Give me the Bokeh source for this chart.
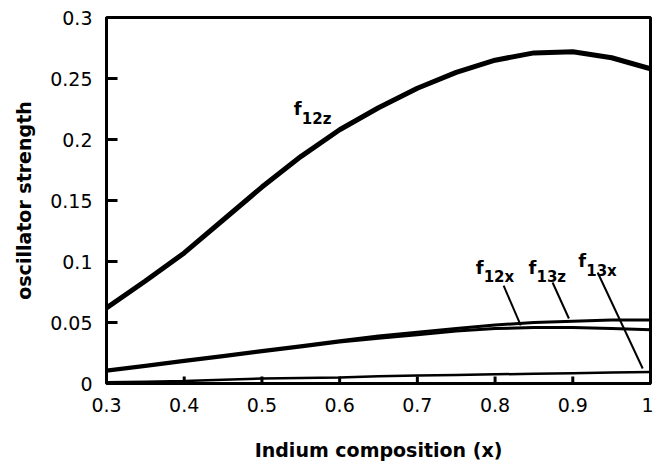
from bokeh.plotting import figure
from bokeh.models import Range1d, FixedTicker, Label
from bokeh.embed import file_html
from bokeh.resources import INLINE

# Data
x_vals = [0.3, 0.35, 0.4, 0.45, 0.5, 0.55, 0.6, 0.65, 0.7, 0.75, 0.8, 0.85, 0.9, 0.95, 1.0]
f12z = [0.062, 0.084, 0.107, 0.134, 0.161, 0.186, 0.208, 0.226, 0.242, 0.255, 0.265, 0.271, 0.272, 0.267, 0.258]
f13z = [0.011, 0.015, 0.019, 0.023, 0.027, 0.031, 0.035, 0.039, 0.042, 0.045, 0.048, 0.050, 0.051, 0.052, 0.052]
f12x = [0.010, 0.014, 0.018, 0.022, 0.026, 0.030, 0.034, 0.037, 0.040, 0.043, 0.045, 0.046, 0.046, 0.045, 0.044]
f13x = [0.001, 0.0015, 0.002, 0.003, 0.004, 0.0045, 0.005, 0.006, 0.0065, 0.007, 0.0075, 0.008, 0.0085, 0.009, 0.0095]

x_ticks = [0.3, 0.4, 0.5, 0.6, 0.7, 0.8, 0.9, 1.0]
x_tick_labels = ["0.3", "0.4", "0.5", "0.6", "0.7", "0.8", "0.9", "1"]
y_ticks = [0.0, 0.05, 0.1, 0.15, 0.2, 0.25, 0.3]
y_tick_labels = ["0", "0.05", "0.1", "0.15", "0.2", "0.25", "0.3"]

# Curve annotations: name, subscript, anchor (x, y), pointer start/end
ann_main = ["f", "f", "f", "f"]
ann_sub = ["12z", "12x", "13z", "13x"]
ann_x = [0.541, 0.775, 0.843, 0.907]
ann_y = [0.2254, 0.0951, 0.0951, 0.1008]
ptr_x0 = [0.811, 0.874, 0.932]
ptr_y0 = [0.0803, 0.0828, 0.091]
ptr_x1 = [0.833, 0.895, 0.990]
ptr_y1 = [0.0476, 0.0533, 0.0123]

FONT = "DejaVu Sans"
X0, Y0 = x_ticks[0], y_ticks[0]
X_SPAN = x_ticks[-1] - x_ticks[0]
Y_SPAN = y_ticks[-1] - y_ticks[0]
FRAME_W, FRAME_H = 544, 366

p = figure(width=653, height=466, output_backend="svg", toolbar_location=None,
           x_range=Range1d(x_ticks[0], x_ticks[-1]), y_range=Range1d(y_ticks[0], y_ticks[-1]),
           min_border_left=106, min_border_right=3, min_border_top=17, min_border_bottom=83)
p.grid.visible = False
p.outline_line_color = "black"
p.outline_line_width = 3
p.background_fill_color = "white"
p.border_fill_color = "white"

for ax, ticks, labels in ((p.xaxis[0], x_ticks, x_tick_labels), (p.yaxis[0], y_ticks, y_tick_labels)):
    ax.ticker = FixedTicker(ticks=ticks)
    ax.major_label_overrides = {t: l for t, l in zip(ticks, labels)}
    ax.axis_line_width = 3
    ax.axis_line_color = "black"
    ax.major_tick_in = 0
    ax.major_tick_out = 0
    ax.minor_tick_line_color = None
    ax.major_label_text_font = FONT
    ax.major_label_text_font_size = "19px"
    ax.major_label_text_color = "black"
    ax.axis_label_text_font = FONT
    ax.axis_label_text_font_size = "19px"
    ax.axis_label_text_font_style = "bold"
    ax.axis_label_text_color = "black"

p.xaxis.axis_label = "Indium composition (x)"
p.yaxis.axis_label = "oscillator strength"
p.xaxis.major_label_standoff = 14
p.xaxis.axis_label_standoff = 24
p.yaxis.major_label_standoff = 14
p.yaxis.axis_label_standoff = 12

# Inward tick marks (~11 px on the y axis, ~7 px on the x axis, converted into data units)
ytk = y_ticks[1:-1]
xtk = x_ticks[1:-1]
p.segment(x0=[X0] * len(ytk), y0=ytk, x1=[X0 + X_SPAN * 11 / FRAME_W] * len(ytk), y1=ytk,
          line_color="black", line_width=3)
p.segment(x0=xtk, y0=[Y0] * len(xtk), x1=xtk, y1=[Y0 + Y_SPAN * 7 / FRAME_H] * len(xtk),
          line_color="black", line_width=3)

p.line(x_vals, f12z, line_color="black", line_width=5)
p.line(x_vals, f13z, line_color="black", line_width=3)
p.line(x_vals, f12x, line_color="black", line_width=3)
p.line(x_vals, f13x, line_color="black", line_width=2.5)

for main, sub, lx, ly in zip(ann_main, ann_sub, ann_x, ann_y):
    p.add_layout(Label(x=lx, y=ly, text=main, text_font=FONT, text_font_size="18px",
                       text_font_style="bold", text_color="black", text_align="left",
                       text_baseline="alphabetic"))
    p.add_layout(Label(x=lx, y=ly, x_offset=8, y_offset=-10, text=sub, text_font=FONT,
                       text_font_size="15px", text_font_style="bold", text_color="black",
                       text_align="left", text_baseline="alphabetic"))

p.segment(x0=ptr_x0, y0=ptr_y0, x1=ptr_x1, y1=ptr_y1, line_color="black", line_width=2)

open("out.html", "w").write(file_html(p, INLINE))
